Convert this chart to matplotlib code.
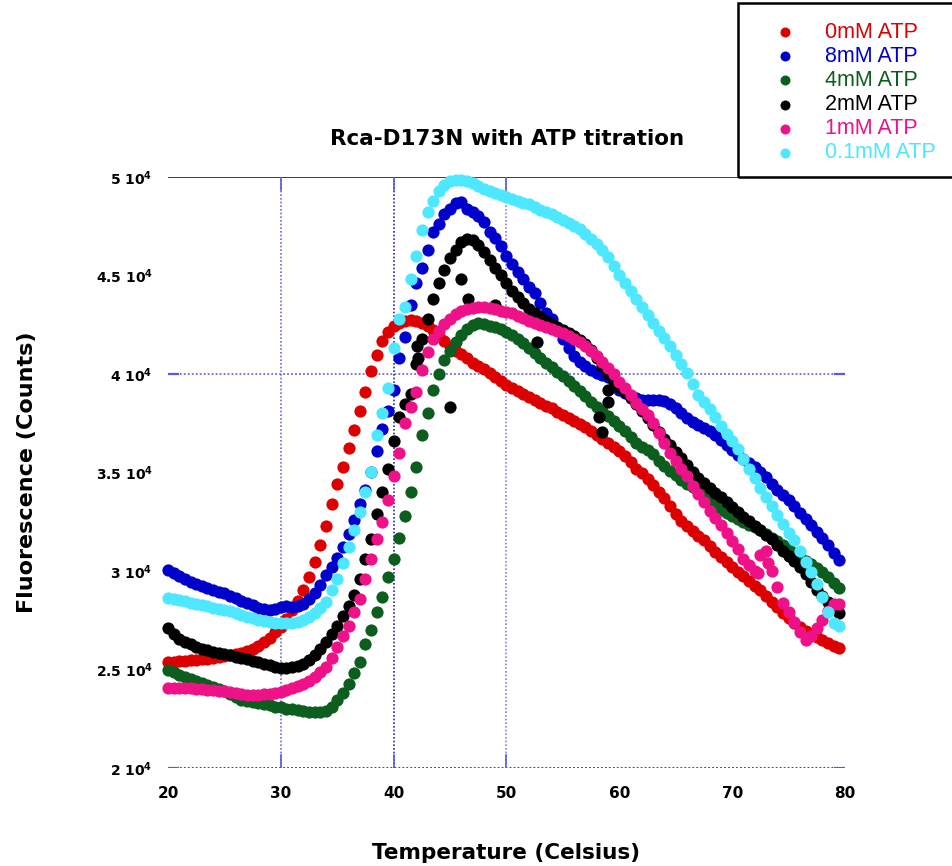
import numpy as np
import matplotlib
matplotlib.use("Agg")
import matplotlib.pyplot as plt
from matplotlib.lines import Line2D
from matplotlib.patches import Rectangle
import matplotlib.transforms as mtransforms

plt.rcParams['font.family'] = ['Liberation Sans', 'DejaVu Sans']
plt.rcParams['mathtext.fontset'] = 'custom'
plt.rcParams['mathtext.rm'] = 'DejaVu Sans:bold'
plt.rcParams['mathtext.bf'] = 'DejaVu Sans:bold'
plt.rcParams['mathtext.it'] = 'DejaVu Sans:bold'

# ---------------- data (fluorescence in thousands of counts) ----------------
temperature = np.arange(20.0, 80.0, 0.5)   # scan temperatures, Celsius

atp_0mM = [
    25.38, 25.40, 25.42, 25.45, 25.48, 25.50, 25.53, 25.55, 25.58, 25.62,
    25.66, 25.72, 25.78, 25.86, 25.95, 26.05, 26.20, 26.40, 26.62, 26.88,
    27.16, 27.55, 28.00, 28.50, 29.04, 29.70, 30.45, 31.30, 32.30, 33.40,
    34.40, 35.30, 36.25, 37.15, 38.10, 39.10, 40.15, 40.95, 41.70, 42.15,
    42.45, 42.60, 42.70, 42.75, 42.70, 42.60, 42.45, 42.23, 41.95, 41.70,
    41.40, 41.15, 41.00, 40.80, 40.56, 40.40, 40.25, 40.05, 39.85, 39.65,
    39.45, 39.30, 39.15, 39.00, 38.85, 38.70, 38.55, 38.40, 38.25, 38.05,
    37.90, 37.75, 37.60, 37.45, 37.30, 37.10, 36.90, 36.70, 36.50, 36.30,
    36.10, 35.85, 35.55, 35.20, 34.95, 34.65, 34.35, 34.00, 33.70, 33.30,
    32.90, 32.55, 32.30, 32.05, 31.80, 31.55, 31.25, 30.95, 30.70, 30.45,
    30.20, 29.95, 29.75, 29.50, 29.25, 29.04, 28.75, 28.45, 28.15, 27.85,
    27.60, 27.35, 27.15, 26.95, 26.80, 26.65, 26.50, 26.35, 26.20, 26.10]

atp_8mM = [
    30.05, 29.90, 29.75, 29.60, 29.45, 29.35, 29.25, 29.15, 29.05, 28.95,
    28.88, 28.75, 28.63, 28.50, 28.38, 28.25, 28.12, 28.05, 28.02, 28.05,
    28.15, 28.20, 28.17, 28.20, 28.35, 28.60, 28.90, 29.30, 29.80, 30.20,
    30.65, 31.20, 31.90, 32.60, 33.40, 34.10, 35.00, 36.10, 37.20, 38.10,
    39.20, 40.80, 41.90, 43.50, 44.60, 45.40, 46.30, 47.20, 47.60, 48.10,
    48.40, 48.70, 48.75, 48.40, 48.20, 48.00, 47.70, 47.20, 46.90, 46.50,
    46.00, 45.60, 45.20, 44.80, 44.40, 44.10, 43.60, 43.10, 42.80, 42.30,
    41.80, 41.30, 40.90, 40.60, 40.40, 40.20, 40.05, 39.95, 39.85, 39.60,
    39.20, 39.05, 38.90, 38.80, 38.70, 38.70, 38.70, 38.70, 38.65, 38.50,
    38.25, 38.00, 37.75, 37.55, 37.40, 37.25, 37.10, 36.90, 36.65, 36.40,
    36.15, 35.90, 35.70, 35.50, 35.30, 35.05, 34.75, 34.40, 34.10, 33.85,
    33.60, 33.30, 32.95, 32.65, 32.35, 32.00, 31.65, 31.30, 30.90, 30.55]

atp_4mM = [
    24.97, 24.85, 24.72, 24.60, 24.50, 24.40, 24.30, 24.20, 24.10, 24.00,
    23.90, 23.75, 23.60, 23.47, 23.40, 23.35, 23.30, 23.25, 23.18, 23.12,
    23.08, 23.02, 22.98, 22.94, 22.90, 22.85, 22.82, 22.82, 22.90, 23.10,
    23.45, 23.80, 24.25, 24.80, 25.40, 26.30, 27.00, 27.90, 28.70, 29.70,
    30.60, 31.70, 32.80, 34.00, 35.30, 36.90, 38.00, 39.20, 40.00, 40.70,
    41.15, 41.60, 42.00, 42.30, 42.50, 42.60, 42.55, 42.45, 42.40, 42.30,
    42.15, 42.00, 41.80, 41.55, 41.30, 41.05, 40.80, 40.55, 40.35, 40.10,
    39.90, 39.65, 39.40, 39.15, 38.90, 38.60, 38.35, 38.10, 37.85, 37.60,
    37.35, 37.10, 36.80, 36.50, 36.30, 36.15, 35.95, 35.60, 35.35, 35.10,
    34.85, 34.60, 34.40, 34.25, 34.05, 33.85, 33.60, 33.35, 33.10, 32.95,
    32.80, 32.65, 32.50, 32.35, 32.25, 32.10, 31.90, 31.70, 31.50, 31.30,
    31.10, 30.90, 30.70, 30.50, 30.35, 30.15, 29.95, 29.70, 29.40, 29.15]

atp_2mM = [
    27.10, 26.80, 26.55, 26.40, 26.30, 26.15, 26.05, 25.98, 25.90, 25.85,
    25.80, 25.72, 25.65, 25.58, 25.52, 25.45, 25.38, 25.30, 25.22, 25.15,
    25.10, 25.08, 25.12, 25.20, 25.30, 25.50, 25.75, 26.05, 26.40, 26.80,
    27.20, 27.70, 28.20, 28.80, 29.60, 30.60, 31.60, 32.90, 34.00, 35.20,
    36.60, 37.80, 38.50, 39.00, 40.50, 41.80, 42.80, 43.80, 44.60, 45.30,
    45.90, 46.30, 46.70, 46.85, 46.80, 46.55, 46.20, 45.80, 45.40, 45.00,
    44.60, 44.20, 43.90, 43.60, 43.30, 43.10, 42.90, 42.70, 42.55, 42.40,
    42.25, 42.10, 41.95, 41.75, 41.50, 41.20, 40.80, 40.40, 40.00, 39.65,
    39.35, 39.10, 38.80, 38.50, 38.10, 37.75, 37.40, 37.05, 36.70, 36.40,
    36.05, 35.75, 35.40, 35.05, 34.70, 34.45, 34.20, 33.95, 33.75, 33.50,
    33.25, 33.00, 32.75, 32.55, 32.30, 32.10, 31.85, 31.60, 31.30, 31.00,
    30.75, 30.50, 30.20, 29.85, 29.45, 29.05, 28.75, 28.45, 28.10, 27.85]
# scattered 2mM readings
atp_2mM_extra_T = [42.1, 42.2, 45.0, 46.0, 46.6, 49.0, 52.7, 58.2, 58.5, 59.0, 59.0]
atp_2mM_extra_F = [41.4, 40.8, 38.3, 44.8, 43.8, 43.5, 41.6, 37.8, 37.05, 39.2, 38.6]

atp_1mM = [
    24.06, 24.05, 24.05, 24.06, 24.06, 24.03, 24.00, 23.98, 23.95, 23.92,
    23.90, 23.85, 23.80, 23.76, 23.72, 23.70, 23.72, 23.75, 23.78, 23.82,
    23.88, 23.95, 24.05, 24.15, 24.25, 24.40, 24.60, 24.85, 25.15, 25.60,
    26.15, 26.70, 27.20, 27.90, 28.60, 29.60, 30.60, 31.60, 32.50, 33.60,
    34.80, 36.00, 37.50, 38.30, 39.10, 40.20, 41.10, 41.80, 42.20, 42.55,
    42.80, 43.05, 43.20, 43.30, 43.35, 43.40, 43.38, 43.33, 43.28, 43.22,
    43.15, 43.10, 42.95, 42.85, 42.70, 42.60, 42.50, 42.40, 42.30, 42.20,
    42.10, 41.95, 41.80, 41.60, 41.40, 41.15, 40.90, 40.60, 40.30, 40.00,
    39.60, 39.30, 38.95, 38.55, 38.20, 37.90, 37.50, 37.00, 36.50, 36.00,
    35.60, 35.20, 34.80, 34.30, 33.90, 33.50, 33.05, 32.70, 32.35, 31.95,
    31.50, 31.10, 30.60, 30.30, 30.00, 30.80, 31.00, 30.00, 29.20, 28.40,
    27.90, 27.40, 26.90, 26.50, 26.70, 27.10, 27.50, 27.95, 28.30, 28.30]
atp_1mM_extra_T = [72.3, 73.2]
atp_1mM_extra_F = [29.9, 30.4]

atp_01mM = [
    28.63, 28.58, 28.53, 28.48, 28.40, 28.35, 28.28, 28.20, 28.12, 28.08,
    28.02, 27.95, 27.85, 27.75, 27.68, 27.60, 27.52, 27.45, 27.40, 27.36,
    27.36, 27.35, 27.36, 27.40, 27.50, 27.65, 27.85, 28.10, 28.45, 29.05,
    29.60, 30.40, 31.20, 32.10, 33.00, 34.00, 35.00, 36.90, 38.00, 39.30,
    41.30, 42.80, 43.40, 44.80, 46.00, 47.30, 48.20, 48.80, 49.30, 49.60,
    49.80, 49.85, 49.85, 49.80, 49.70, 49.55, 49.40, 49.30, 49.20, 49.10,
    49.00, 48.90, 48.80, 48.70, 48.65, 48.50, 48.35, 48.20, 48.10, 47.95,
    47.80, 47.65, 47.50, 47.35, 47.10, 46.85, 46.60, 46.30, 45.95, 45.50,
    45.00, 44.60, 44.20, 43.80, 43.40, 43.00, 42.60, 42.20, 41.85, 41.40,
    40.95, 40.50, 40.05, 39.50, 38.95, 38.60, 38.20, 37.80, 37.35, 36.95,
    36.60, 36.20, 35.70, 35.20, 34.70, 34.20, 33.75, 33.30, 32.85, 32.40,
    31.95, 31.55, 31.00, 30.45, 29.95, 29.35, 28.70, 27.90, 27.35, 27.20]

labels = ["0mM ATP", "8mM ATP", "4mM ATP", "2mM ATP", "1mM ATP", "0.1mM ATP"]
colors = ["#DD0000", "#0000CC", "#0B5E1E", "#000000", "#EE1188", "#4DE8FF"]

x_ticks = [20, 30, 40, 50, 60, 70, 80]
y_ticks = [20000, 25000, 30000, 35000, 40000, 45000, 50000]
y_tick_labels = [r"2 10$^{4}$", r"2.5 10$^{4}$", r"3 10$^{4}$", r"3.5 10$^{4}$",
                 r"4 10$^{4}$", r"4.5 10$^{4}$", r"5 10$^{4}$"]

# ---------------- figure ----------------
W, H = 953, 866
fig = plt.figure(figsize=(W / 100, H / 100), dpi=100)
ax = fig.add_axes([168 / W, 1 - 768 / H, (845 - 168) / W, (768 - 177) / H])

series = [
    (temperature, atp_0mM),
    (temperature, atp_8mM),
    (temperature, atp_4mM),
    (np.concatenate([temperature, atp_2mM_extra_T]), atp_2mM + atp_2mM_extra_F),
    (np.concatenate([temperature, atp_1mM_extra_T]), atp_1mM + atp_1mM_extra_F),
    (temperature, atp_01mM),
]
for (t, f), c, lab in zip(series, colors, labels):
    ax.plot(t, np.asarray(f) * 1000.0, linestyle="none", marker="o",
            markersize=8.8, markeredgewidth=0, color=c, label=lab,
            clip_on=False, zorder=3)

ax.set_xlim(20, 80)
ax.set_ylim(20000, 50000)
for s in ax.spines.values():
    s.set_visible(False)

# grid / frame lines
dot = (0, (1, 1.2))
ax.axhline(50000, color="#1a1acc", lw=1.3, zorder=1)
ax.axhline(20000, color="#2a2acc", lw=1.3, ls=dot, zorder=1)
ax.axhline(40000, color="#6a6add", lw=1.3, ls=dot, zorder=1)
ax.axvline(30, color="#6a6ae0", lw=1.2, ls=dot, zorder=1)
ax.axvline(40, color="#2a2aa8", lw=1.2, ls=dot, zorder=1)
ax.axvline(50, color="#8080e8", lw=1.2, ls=dot, zorder=1)

# small solid tick stubs
bx = mtransforms.blended_transform_factory(ax.transData, ax.transAxes)
by = mtransforms.blended_transform_factory(ax.transAxes, ax.transData)
for xv in [30, 40, 50]:
    ax.plot([xv, xv], [1, 0.978], transform=bx, color="#5a5add", lw=1.2, zorder=1)
    ax.plot([xv, xv], [0, 0.022], transform=bx, color="#5a5add", lw=1.2, zorder=1)
for yv in [20000, 40000]:
    ax.plot([0, 0.015], [yv, yv], transform=by, color="#5a5add", lw=1.6, zorder=1)
    ax.plot([0.985, 1], [yv, yv], transform=by, color="#5a5add", lw=1.6, zorder=1)

ax.set_xticks(x_ticks)
ax.set_xticklabels([str(v) for v in x_ticks], fontweight="bold", fontsize=11,
                   family="DejaVu Sans")
ax.set_yticks(y_ticks)
ax.set_yticklabels(y_tick_labels, fontweight="bold", fontsize=10,
                   family="DejaVu Sans")
ax.tick_params(axis="both", length=0)
ax.tick_params(axis="x", pad=13)
ax.tick_params(axis="y", pad=11)

ax.set_xlabel("Temperature (Celsius)", fontsize=15.5, fontweight="bold",
              family="DejaVu Sans", labelpad=30)
ax.set_ylabel("Fluorescence (Counts)", fontsize=16, fontweight="bold",
              family="DejaVu Sans", labelpad=42)
fig.text(507 / W, 1 - 139 / H, "Rca-D173N with ATP titration", fontsize=15.5,
         fontweight="bold", family="DejaVu Sans", ha="center", va="center")

# legend box (manual, top-right, outside axes)
fig.add_artist(Rectangle((738 / W, 1 - 177 / H), (W - 738 + 5) / W, 174 / H,
                         transform=fig.transFigure, fill=False,
                         edgecolor="black", lw=1.8, clip_on=False))
for i, (lab, c) in enumerate(zip(labels, colors)):
    yy = 1 - (32 + 24.2 * i) / H
    fig.add_artist(Line2D([785 / W], [yy], transform=fig.transFigure,
                          marker="o", markersize=7.2, markeredgewidth=0,
                          color=c, linestyle="none"))
    fig.text(825 / W, yy, lab, color=c, fontsize=15.5, ha="left", va="center")

fig.savefig("out.png", dpi=100)
